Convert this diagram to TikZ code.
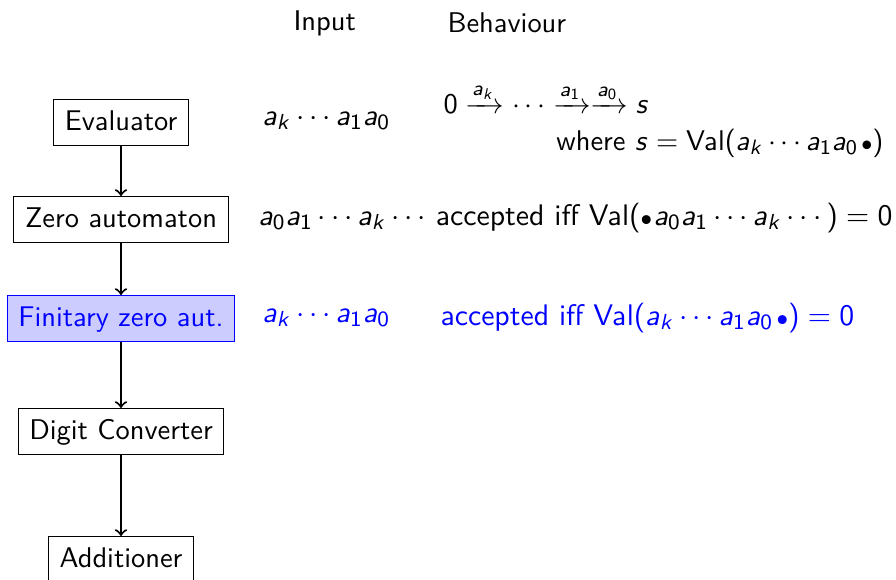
\documentclass[tikz,border=0pt]{standalone}
\usepackage{amsmath}
\renewcommand\familydefault{\sfdefault}
\DeclareSymbolFont{operators}{OT1}{cmss}{m}{n}
\DeclareSymbolFont{letters}{OT1}{cmss}{m}{sl}
\newcommand\dotmark{{\scriptstyle\bullet}}
\begin{document}
\begin{tikzpicture}[x=0.3846pt,y=-0.3846pt,
  font=\fontsize{10.95}{13}\selectfont,
  box/.style={draw, thin, inner sep=4.3pt, text height=7.6pt, text depth=1.5pt, anchor=north},
  hibox/.style={box, draw=blue, fill=blue!20, text=blue},
  flow/.style={->, thick},
  lbl/.style={inner sep=0pt, anchor=base west},
  lble/.style={inner sep=0pt, anchor=base east},
  rowtext/.style={transform shape, scale=1.045},
  bigtext/.style={font=\fontsize{11.4}{13.5}\selectfont},
  hi/.style={text=blue}]
\useasboundingbox (0,0) rectangle (896,579);
\clip (0,0) rectangle (896,579);
% headers
\node[lbl] (hin) at (293,30) {Input};
\node[lbl] (hbe) at (447,33) {Behaviour};
% boxes
\node[box] (ev) at (121,99) {Evaluator};
\node[box] (za) at (121,196) {Zero automaton};
\node[hibox] (fz) at (121,295) {Finitary zero aut.};
\node[box] (dc) at (121,408) {Digit Converter};
\node[box] (ad) at (121,536) {Additioner};
\draw[flow] (ev) -- (za);
\draw[flow] (za) -- (fz);
\draw[flow] (fz) -- (dc);
\draw[flow] (dc) -- (ad);
% row 1
\node[lbl, rowtext] (i1) at (262,125) {$a_k\cdots a_1a_0$};
\node[lbl, bigtext] (b1a) at (443,113) {$0\xrightarrow{a_k}\cdots\xrightarrow{a_1}\xrightarrow{a_0}s$};
\node[lble] (b1b) at (884,150) {where $s=\mathrm{Val}(a_k\cdots a_1a_0\mkern2mu\dotmark)$};
% row 2
\node[lbl, rowtext] (i2) at (258,225) {$a_0a_1\cdots a_k\cdots$};
\node[lble, rowtext] (b2) at (893,225) {accepted iff $\mathrm{Val}(\dotmark\mkern1mu a_0a_1\cdots a_k\cdots)=0$};
% row 3
\node[lbl, rowtext, hi] (i3) at (262,322) {$a_k\cdots a_1a_0$};
\node[lbl, rowtext, hi] (b3) at (440,325) {accepted iff $\mathrm{Val}(a_k\cdots a_1a_0\mkern2mu\dotmark)=0$};
\end{tikzpicture}
\end{document}
